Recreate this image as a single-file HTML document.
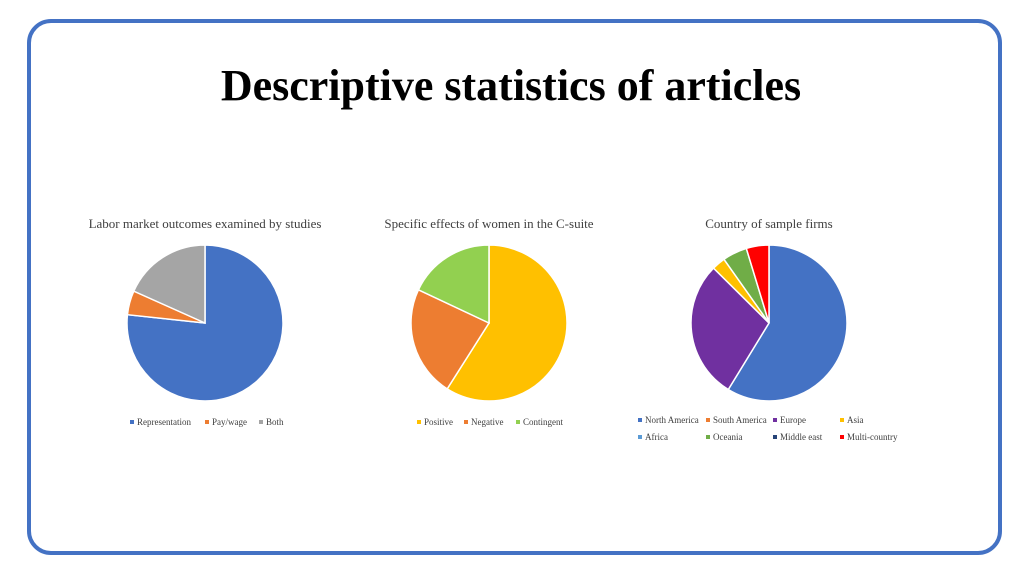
<!DOCTYPE html>
<html><head><meta charset="utf-8"><style>
body{margin:0;width:1024px;height:576px;background:#fff;overflow:hidden;font-family:"Liberation Serif",serif}
</style></head><body>
<svg id="s" width="1024" height="576" xmlns="http://www.w3.org/2000/svg">
<rect x="29" y="21" width="971" height="532" rx="22" fill="#fff" stroke="#4472c4" stroke-width="4"/>
<text x="511" y="100" text-anchor="middle" font-size="44" font-weight="bold" font-family="Liberation Serif">Descriptive statistics of articles</text>
</svg>
<script>
const labels1=["Representation","Pay/wage","Both"];
const values1=[76.7,5,18.3];
const colors1=["#4472c4","#ed7d31","#a5a5a5"];
const labels2=["Positive","Negative","Contingent"];
const values2=[59,23,18];
const colors2=["#ffc000","#ed7d31","#92d050"];
const labels3=["North America","South America","Europe","Asia","Africa","Oceania","Middle east","Multi-country"];
const values3=[58.8,0,28.7,2.8,0,5.1,0,4.7];
const colors3=["#4472c4","#ed7d31","#7030a0","#ffc000","#5b9bd5","#70ad47","#264478","#ff0000"];
const NS="http://www.w3.org/2000/svg";
const svg=document.getElementById('s');
function mk(t,a){const e=document.createElementNS(NS,t);for(const k in a)e.setAttribute(k,a[k]);svg.appendChild(e);return e;}
function pie(title,labels,values,colors,cx,cy,r,legend){
  const t=mk('text',{x:cx,y:228,'text-anchor':'middle','font-size':13,fill:'#404040'});
  t.textContent=title;
  
  
  const tot=values.reduce((a,b)=>a+b,0);let a0=0;
  values.forEach((v,i)=>{
    if(v<=0)return;
    const a1=a0+v/tot*2*Math.PI;
    const x0=cx+r*Math.sin(a0),y0=cy-r*Math.cos(a0),x1=cx+r*Math.sin(a1),y1=cy-r*Math.cos(a1);
    const p=mk('path',{d:`M${cx},${cy}L${x0},${y0}A${r},${r} 0 ${a1-a0>Math.PI?1:0} 1 ${x1},${y1}Z`,fill:colors[i],stroke:'#fff','stroke-width':1.5});
    
    
    a0=a1;
  });
  legend.forEach((pos,i)=>{
    const rr=mk('rect',{x:pos[0],y:pos[1]-5,width:4,height:4,fill:colors[i]});
    
    
    const lt=mk('text',{x:pos[0]+7,y:pos[1],'font-size':9,fill:'#404040'});
    lt.textContent=labels[i];
    
    
  });
}
pie("Labor market outcomes examined by studies",labels1,values1,colors1,205,323,78,[[130,425],[205,425],[259,425]]);
pie("Specific effects of women in the C-suite",labels2,values2,colors2,489,323,78,[[417,425],[464,425],[516,425]]);
pie("Country of sample firms",labels3,values3,colors3,769,323,78,[[638,423],[706,423],[773,423],[840,423],[638,440],[706,440],[773,440],[840,440]]);
</script>
</body></html>
